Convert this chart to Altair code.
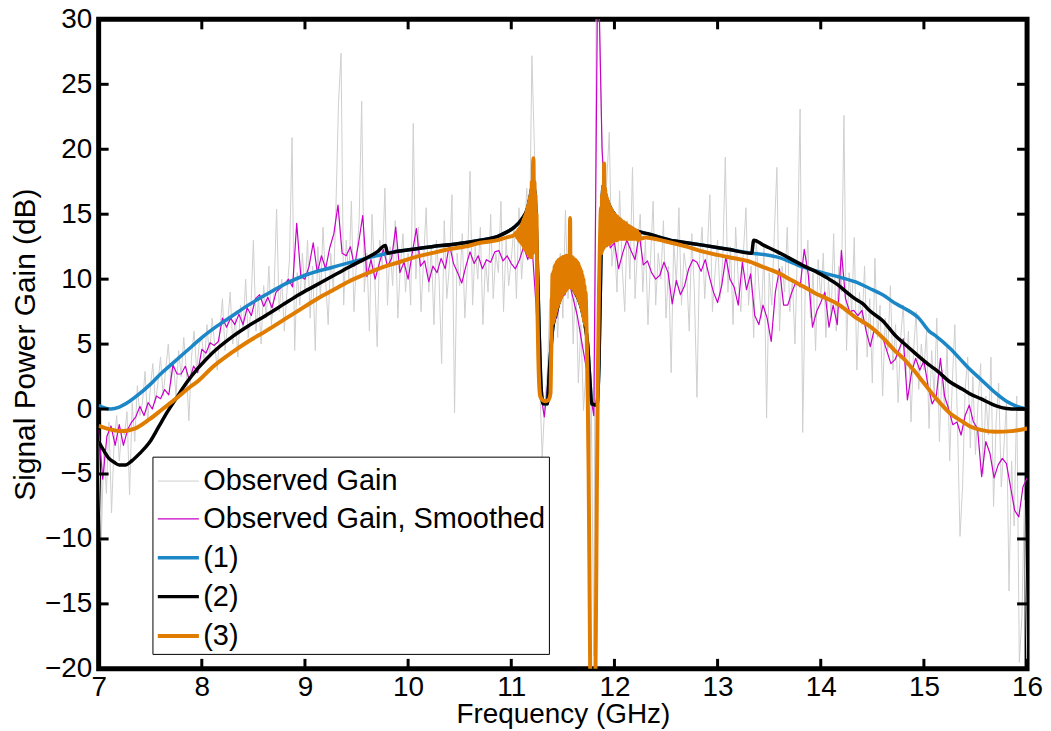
import altair as alt
import pandas as pd

FONT = "Liberation Sans"

SERIES = ["Observed Gain", "Observed Gain, Smoothed", "(1)", "(2)", "(3)"]
COLORS = ["#cfcfcf", "#c800c8", "#1b87c6", "#000000", "#e07d00"]
WIDTHS = [1.0, 1.2, 3.5, 3.5, 4.0]

X_TICKS = [7, 8, 9, 10, 11, 12, 13, 14, 15, 16]
Y_TICKS = [-20, -15, -10, -5, 0, 5, 10, 15, 20, 25, 30]

# Observed gain, sampled every 0.025 GHz from 7.0 GHz
GRAY_START, GRAY_STEP = 7.0, 0.025
gray_gain = [
    -2.5, -10.2, -3.0, -6.5, -1.0, -8.0, -2.5, -0.5, -4.0, -1.5, -2.0, -0.2, -6.6, 0.5, -2.5, 1.8, -0.5, 0.5, 2.9, -1.0,
    1.5, 3.5, 0.5, 2.0, 4.0, 1.0, 3.0, 5.0, 2.0, 3.5, 1.0, 4.5, 2.5, 5.5, 3.0, -0.9, 4.0, 6.0, 3.0, 5.0,
    5.5, 3.5, 6.5, 4.0, 7.0, 5.0, 3.0, 6.0, 8.5, 4.5, 6.5, 9.0, 5.0, 7.0, 4.0, 8.0, 6.0, 10.0, 5.5, 7.5,
    13.0, 6.0, 8.5, 5.0, 9.5, 7.0, 11.0, 6.5, 9.0, 15.4, 7.5, 10.0, 6.0, 9.0, 11.5, 20.9, 4.5, 10.5, 8.0, 12.0,
    9.0, 13.0, 7.0, 11.0, 4.5, 12.5, 8.5, 14.0, 10.0, 6.5, 12.0, 9.0, 15.5, 23.5, 27.4, 8.0, 13.0, 10.0, 16.0, 7.5,
    11.5, 14.5, 23.7, 9.0, 12.0, 6.0, 15.0, 10.5, 4.8, 13.0, 11.0, 17.0, 8.0, 12.5, 9.5, 14.5, 7.0, 11.0, 13.5, 9.0,
    12.0, 8.0, 22.0, 10.0, 14.0, 7.5, 11.5, 15.5, 9.0, 12.5, 6.5, 13.0, 10.0, 3.5, 14.5, 8.5, 11.0, 16.5, -0.3, 12.0,
    9.5, 13.5, 7.0, 11.0, 18.3, 8.0, 12.5, 10.0, 14.0, 6.5, 11.5, 9.0, 15.0, 8.5, 12.0, 10.5, 16.0, 7.5, 13.0, 9.5,
    11.5, 14.0, 8.5, 15.5, 10.0, 13.0, 17.0, 12.0, 27.2, 19.9, 9.0, 2.0, -3.7, 0.5, 3.0, 8.5, 4.0, 10.0, 5.5, 12.0,
    7.0, 15.3, 8.5, 12.5, 5.0, 10.5, 2.0, 6.5, -0.1, 3.0, -9.0, 1.0, -19.0, 36.0, 31.0, 22.0, 14.0, 17.5, 21.3, 11.0,
    13.0, 9.0, 16.8, 11.0, 7.5, 14.5, 10.0, 18.6, 8.5, 12.5, 15.0, 9.0, 13.0, 6.5, 11.5, 16.0, 8.0, 12.0, 10.0, 14.5,
    7.0, 11.0, 2.8, 13.0, 9.5, 15.5, 8.0, 12.0, 10.5, 6.0, 13.5, 9.0, 0.9, 11.5, 14.0, 8.5, 12.0, 16.5, 7.5, 10.5,
    13.0, 8.5, 11.5, 19.4, 9.0, 12.5, 6.5, 14.0, 10.0, 7.5, 12.0, 15.5, 8.0, 11.0, 5.5, 13.0, 9.5, 7.0, 12.5, -0.7,
    10.5, 8.0, 13.5, 18.6, 6.0, 11.0, 9.0, 14.0, 7.5, 10.0, 5.0, 12.5, 23.1, -1.8, 9.5, 13.0, 7.0, 10.5, 4.5, 11.5,
    8.5, 12.0, 5.5, 10.0, 7.0, 13.5, 6.0, 11.0, 9.0, 22.6, 4.5, 10.5, 7.5, 13.2, 3.0, 9.0, 6.5, 11.0, 4.0, 8.5,
    2.0, 11.6, 5.5, 8.0, 1.0, 7.0, 4.5, 9.5, 3.0, 6.5, 0.5, 5.5, 8.0, 2.5, 6.0, -1.0, 4.5, 7.5, 1.5, 5.0,
    3.0, 6.0, -1.5, 4.5, 1.0, 7.0, -2.5, 3.0, 0.0, 5.0, -4.0, 2.0, 6.5, -1.0, -9.8, -6.0, 1.5, 4.0, -3.0, 2.5,
    -3.5, 0.5, 3.5, -5.0, 1.0, -2.0, 4.0, -7.5, -1.0, 2.0, -6.0, -3.0, 0.5, -14.0, -4.0, -9.0, 1.0, -19.5, -16.0, -7.0,
    -21.0,
]

# Smoothed observed gain, sampled every 0.04 GHz from 7.0 GHz
SMOOTH_START, SMOOTH_STEP = 7.0, 0.04
smooth_gain = [
    -1.6, -5.4, -2.1, -1.3, -2.8, -1.2, -2.8, -1.6, -1.0, -0.6,
    0.2, -0.5, 0.5, 0.0, 1.0, 0.8, 1.5, 1.1, 3.4, 2.7,
    2.7, 3.3, 2.2, 3.3, 2.8, 4.6, 4.3, 5.1, 4.9, 5.2,
    7.0, 6.3, 7.0, 6.5, 7.3, 6.5, 7.8, 7.2, 8.5, 8.8,
    7.9, 8.6, 7.8, 9.0, 9.3, 9.6, 10.0, 9.4, 14.3, 10.2,
    10.0, 11.0, 12.8, 10.5, 11.8, 10.8, 12.4, 13.5, 15.7, 12.0,
    11.8, 12.5, 11.0, 12.8, 14.9, 10.2, 11.5, 10.0, 11.2, 12.3,
    11.0, 11.6, 14.0, 10.5, 11.3, 10.0, 12.0, 13.9, 11.0, 11.4,
    9.8, 11.0, 10.5, 11.6, 10.8, 12.7, 11.2, 10.5, 9.7, 11.0,
    12.1, 11.2, 11.8, 10.8, 11.5, 11.3, 12.1, 12.2, 11.4, 11.8,
    11.2, 10.8, 11.5, 12.5, 11.5, 12.7, 8.0, 1.5, -0.6, 2.5,
    6.8, 7.0, 8.6, 8.8, 9.8, 8.5, 7.2, 5.3, 3.5, 1.5,
    -0.5, 36.0, 20.0, 14.5, 12.4, 12.8, 10.8, 12.0, 13.0, 12.2,
    11.5, 13.5, 11.1, 11.4, 10.5, 10.0, 10.3, 11.3, 10.5, 8.1,
    9.9, 8.8, 9.5, 10.8, 11.5, 11.3, 10.6, 11.5, 10.2, 9.0,
    8.2, 9.5, 11.7, 10.0, 9.4, 8.0, 11.3, 9.2, 10.4, 7.2,
    6.5, 8.0, 7.0, 5.2, 9.0, 10.8, 8.0, 8.0, 9.0, 9.8,
    9.4, 12.3, 10.3, 6.3, 7.5, 8.2, 9.0, 6.3, 8.0, 6.5,
    12.2, 8.5, 7.5, 7.6, 7.2, 7.6, 6.0, 4.8, 6.2, 5.8,
    5.5, 4.5, 3.5, 3.8, 4.6, 5.4, 0.7, 2.8, 3.9, 3.0,
    3.7, 1.8, 0.4, 1.0, 3.9, 1.0, 0.0, -1.2, -1.0, -2.0,
    -0.5, 0.3, -1.0, -1.5, -5.2, -2.5, -3.4, -5.3, -4.3, -3.8,
    -4.2, -6.0, -7.8, -8.3, -6.0, -5.3,
]

# Model (2): [frequency GHz, gain dB]
model2_points = [
    [7.00, -2.5], [7.05, -3.2], [7.10, -3.8], [7.15, -4.1], [7.20, -4.3], [7.26, -4.3], [7.32, -4.0],
    [7.40, -3.4], [7.49, -2.6], [7.58, -1.4], [7.66, -0.3], [7.75, 0.8], [7.85, 2.0], [7.97, 3.2],
    [8.10, 4.3], [8.30, 5.6], [8.45, 6.4], [8.62, 7.2], [8.80, 8.1], [8.94, 8.8], [9.10, 9.5],
    [9.26, 10.2], [9.42, 10.9], [9.59, 11.6], [9.70, 12.1], [9.78, 12.6], [9.80, 12.0], [9.90, 12.15],
    [10.05, 12.3], [10.23, 12.5], [10.40, 12.65], [10.55, 12.8], [10.70, 13.0], [10.87, 13.3],
    [10.95, 13.6], [11.03, 14.0], [11.10, 14.6], [11.16, 15.5], [11.19, 16.6], [11.21, 17.4],
    [11.23, 16.5], [11.25, 12.0], [11.27, 6.0], [11.29, 1.5], [11.31, 0.4], [11.35, 0.4], [11.37, 3.0],
    [11.40, 6.1], [11.44, 7.6], [11.48, 8.6], [11.52, 9.2], [11.55, 9.6], [11.58, 9.6], [11.61, 9.1],
    [11.65, 8.5], [11.68, 7.8], [11.71, 6.7], [11.74, 5.0], [11.76, 2.5], [11.78, 0.4], [11.83, 0.3],
    [11.85, 3.5], [11.87, 12.0], [11.89, 17.2], [11.92, 16.3], [11.96, 15.5], [12.00, 15.0],
    [12.06, 14.5], [12.13, 14.1], [12.22, 13.7], [12.32, 13.5], [12.54, 13.0], [12.70, 12.8],
    [12.87, 12.6], [13.10, 12.3], [13.33, 12.0], [13.35, 13.0], [13.45, 12.6], [13.58, 12.1],
    [13.70, 11.6], [13.84, 11.0], [13.95, 10.6], [14.06, 10.1], [14.16, 9.6], [14.25, 9.0],
    [14.33, 8.5], [14.41, 8.1], [14.47, 7.6], [14.60, 6.8], [14.73, 5.6], [14.80, 5.1], [14.90, 4.4],
    [15.05, 3.4], [15.12, 3.0], [15.25, 2.1], [15.38, 1.5], [15.44, 1.2], [15.55, 0.8], [15.70, 0.25],
    [15.80, 0.05], [15.90, 0.0], [16.00, 0.0],
]

# Model (1): outer parts (the centre part coincides with model (2))
model1_left = [
    [7.00, 0.3], [7.05, 0.1], [7.12, 0.0], [7.20, 0.15], [7.30, 0.6], [7.40, 1.2], [7.50, 1.9],
    [7.60, 2.7], [7.70, 3.4], [7.80, 4.1], [7.90, 4.8], [8.00, 5.5], [8.15, 6.4], [8.30, 7.2],
    [8.45, 8.0], [8.62, 8.8], [8.80, 9.6], [9.00, 10.3], [9.26, 10.9], [9.59, 11.6],
]
model1_right = [
    [13.45, 11.9], [13.58, 11.7], [13.84, 10.9], [14.06, 10.4], [14.16, 10.2], [14.33, 9.8],
    [14.47, 9.3], [14.60, 8.8], [14.73, 8.1], [14.80, 7.8], [14.95, 7.0], [15.05, 6.0], [15.12, 5.6],
    [15.25, 4.7], [15.38, 3.6], [15.44, 3.1], [15.55, 2.3], [15.70, 1.2], [15.80, 0.6], [15.89, 0.25],
    [16.00, 0.0],
]

# Model (3)
model3_left = [
    [7.00, -1.3], [7.10, -1.55], [7.22, -1.7], [7.35, -1.5], [7.49, -0.8], [7.62, 0.0], [7.75, 0.8],
    [7.87, 1.6], [7.97, 2.2], [8.10, 3.2], [8.30, 4.4], [8.45, 5.2], [8.62, 6.0], [8.80, 6.9],
    [8.94, 7.6], [9.10, 8.4], [9.26, 9.1], [9.42, 9.8], [9.59, 10.4], [9.75, 10.9], [9.91, 11.3],
    [10.07, 11.7], [10.23, 12.0], [10.39, 12.3], [10.55, 12.5], [10.70, 12.8], [10.87, 13.0],
    [10.95, 13.2], [11.03, 13.4],
]
BAND1_START, BAND_STEP = 11.050, 0.005
model3_band1 = [
    13.6, 13.2, 13.7, 13.1, 13.8, 13.0, 13.9, 12.9, 14.0, 12.8, 14.2, 12.7, 14.4, 12.6, 14.6, 12.4,
    14.8, 12.3, 15.0, 12.2, 15.3, 12.0, 15.6, 11.9, 15.9, 11.8, 16.3, 11.7, 16.8, 11.7, 17.5, 12.0,
    18.5, 19.3, 14.0, 17.5, 13.0, 16.5, 12.0, 15.0,
]
model3_dip = [
    [11.250, 10.0], [11.255, 7.0], [11.262, 4.0], [11.270, 2.0], [11.280, 1.0], [11.300, 0.7],
    [11.330, 0.6], [11.360, 0.7], [11.380, 1.2], [11.388, 5.0], [11.395, 8.5],
]
BAND2_START = 11.400
model3_band2 = [
    10.4, 6.6, 10.6, 6.9, 11.0, 7.2, 11.1, 7.5, 11.3, 7.8, 11.4, 8.0, 11.5, 8.2, 11.5, 8.4, 11.6, 8.6,
    11.6, 8.8, 11.7, 8.9, 11.7, 9.0, 11.7, 9.1, 11.8, 9.2, 11.8, 9.3, 11.8, 9.4, 11.8, 9.4, 14.7, 9.4,
    11.7, 9.4, 11.7, 9.3, 11.6, 9.2, 11.5, 9.0, 11.5, 8.9, 11.4, 8.8, 11.3, 8.6, 11.2, 8.4, 11.0, 8.2,
    10.8, 7.9, 10.6, 7.6, 10.3, 7.2, 10.0, 6.8, 9.5, 6.5, 9.0,
]
model3_plunge = [
    [11.730, 6.0], [11.740, 2.0], [11.750, -5.0], [11.760, -15.0], [11.770, -25.0], [11.790, -32.0],
    [11.810, -25.0], [11.820, -17.0], [11.830, -6.0], [11.840, 3.0], [11.850, 9.0], [11.860, 13.0],
    [11.870, 15.5],
]
BAND3_START = 11.875
model3_band3 = [
    12.0, 16.5, 12.2, 17.2, 12.4, 18.9, 12.5, 17.0, 12.6, 16.5, 12.6, 16.2, 12.7, 16.0, 12.7, 15.7,
    12.8, 15.5, 12.8, 15.4, 12.9, 15.2, 12.9, 15.1, 13.0, 15.0, 13.0, 14.9, 13.0, 14.8, 13.0, 14.8,
    13.1, 14.7, 13.1, 14.6, 13.1, 14.6, 13.1, 14.5, 13.1, 14.4, 13.1, 14.4, 13.1, 14.3, 13.1, 14.3,
    13.1, 14.2, 13.1, 14.1, 13.1, 14.1, 13.1, 14.0, 13.1, 14.0, 13.1, 13.9, 13.1, 13.9, 13.1, 13.8,
    13.1, 13.8,
]
model3_right = [
    [12.210, 13.1], [12.220, 13.7], [12.230, 13.0], [12.240, 13.5], [12.250, 13.1], [12.30, 13.2],
    [12.50, 12.9], [12.70, 12.5], [12.87, 12.1], [13.10, 11.7], [13.33, 11.3], [13.45, 10.9],
    [13.58, 10.5], [13.70, 10.0], [13.84, 9.4], [13.95, 8.9], [14.06, 8.5], [14.16, 8.1], [14.25, 7.6],
    [14.33, 7.1], [14.41, 6.7], [14.47, 6.4], [14.60, 5.5], [14.73, 4.4], [14.80, 3.9], [14.90, 3.0],
    [15.00, 2.0], [15.12, 0.8], [15.25, -0.3], [15.38, -1.0], [15.44, -1.3], [15.55, -1.6],
    [15.70, -1.75], [15.85, -1.7], [16.00, -1.5],
]


def grid(start, step, values):
    return [[round(start + i * step, 4), v] for i, v in enumerate(values)]


def frame(points, name):
    return pd.DataFrame({"f": [p[0] for p in points], "g": [p[1] for p in points], "series": name})


model1_points = (model1_left
                 + [p for p in model2_points if 9.80 <= p[0] <= 13.33]
                 + model1_right)
model3_points = (model3_left + grid(BAND1_START, BAND_STEP, model3_band1) + model3_dip
                 + grid(BAND2_START, BAND_STEP, model3_band2) + model3_plunge
                 + grid(BAND3_START, BAND_STEP, model3_band3) + model3_right)

frames = [
    frame(grid(GRAY_START, GRAY_STEP, gray_gain), SERIES[0]),
    frame(grid(SMOOTH_START, SMOOTH_STEP, smooth_gain), SERIES[1]),
    frame(model1_points, SERIES[2]),
    frame(model2_points, SERIES[3]),
    frame(model3_points, SERIES[4]),
]

W, H = 932, 652
x_scale = alt.Scale(domain=[7, 16], nice=False, zero=False)
y_scale = alt.Scale(domain=[-20, 30], nice=False, zero=False)
color_scale = alt.Scale(domain=SERIES, range=COLORS)
width_scale = alt.Scale(type="ordinal", domain=SERIES, range=WIDTHS)

legend = alt.Legend(
    title=None, orient="none", legendX=54, legendY=439,
    symbolType="stroke", symbolSize=1700, symbolOpacity=1,
    labelFont=FONT, labelFontSize=29, labelColor="black", labelLimit=0, labelOffset=2,
    fillColor="white", strokeColor="black", padding=3, rowPadding=1,
)

x_axis = alt.Axis(
    values=X_TICKS, format="d", ticks=False, domain=False, grid=False, labelFlush=False,
    labelFont=FONT, labelFontSize=28, labelColor="black", labelPadding=5,
    title="Frequency (GHz)", titleFont=FONT, titleFontSize=28, titleFontWeight="normal",
    titleColor="black", titleY=54, titleBaseline="alphabetic",
)
y_axis = alt.Axis(
    values=Y_TICKS, format="d", ticks=False, domain=False, grid=False, labelFlush=False,
    labelFont=FONT, labelFontSize=28, labelColor="black", labelPadding=7,
    title="Signal Power Gain (dB)", titleFont=FONT, titleFontSize=30, titleFontWeight="normal",
    titleColor="black", titleX=-73, titleY=H / 2, titleBaseline="middle",
)

X = alt.X("f:Q", scale=x_scale, axis=x_axis)
Y = alt.Y("g:Q", scale=y_scale, axis=y_axis)

interp = ["linear", "linear", "monotone", "monotone", "monotone"]
layers = []
for i, df in enumerate(frames):
    layers.append(
        alt.Chart(df).mark_line(clip=True, interpolate=interp[i], strokeJoin="round").encode(
            x=X, y=Y,
            color=alt.Color("series:N", scale=color_scale, legend=legend),
            strokeWidth=alt.StrokeWidth("series:N", scale=width_scale, legend=legend),
        )
    )

xt = pd.DataFrame({"f": X_TICKS})
yt = pd.DataFrame({"g": Y_TICKS})
tick_style = dict(color="black", strokeWidth=3)
ticks = [
    alt.Chart(xt).mark_rule(**tick_style).encode(x=X, y=alt.value(H), y2=alt.value(H - 10)),
    alt.Chart(xt).mark_rule(**tick_style).encode(x=X, y=alt.value(0), y2=alt.value(10)),
    alt.Chart(yt).mark_rule(**tick_style).encode(y=Y, x=alt.value(0), x2=alt.value(10)),
    alt.Chart(yt).mark_rule(**tick_style).encode(y=Y, x=alt.value(W), x2=alt.value(W - 10)),
]

chart = alt.layer(*layers, *ticks).properties(
    width=W, height=H,
    autosize=alt.AutoSizeParams(type="none"),
    padding={"left": 91, "top": 10, "right": 16, "bottom": 60},
).configure(font=FONT).configure_view(stroke="black", strokeWidth=5)

chart.save("out.html", embed_options={"renderer": "svg", "actions": False})
